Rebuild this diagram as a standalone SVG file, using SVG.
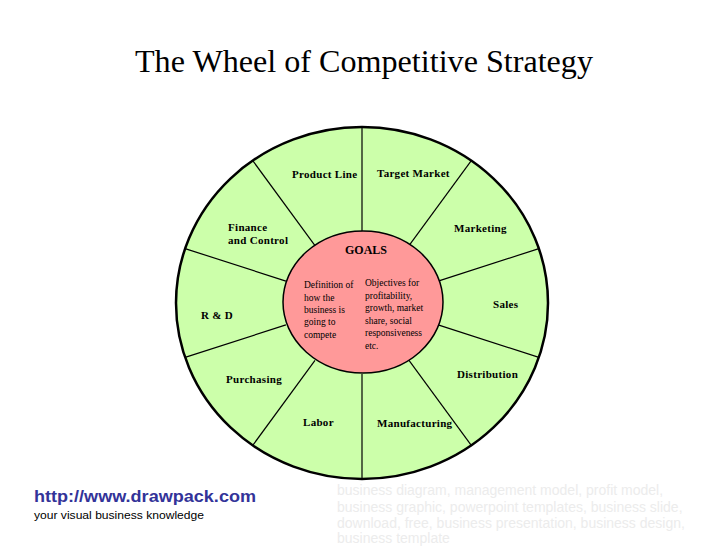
<svg xmlns="http://www.w3.org/2000/svg" width="728" height="546" viewBox="0 0 728 546">
<style>
.lbl{font-family:"Liberation Serif","Times New Roman",serif;font-weight:bold;font-size:11px;fill:#000;letter-spacing:0.3px}
.sm{font-family:"Liberation Serif","Times New Roman",serif;font-size:9.5px;fill:#000}
.spoke{stroke:#000;stroke-width:1.2;fill:none}
.gray{font-family:"Liberation Sans",Arial,sans-serif;font-size:14px;fill:#ececec}
</style>
<rect width="728" height="546" fill="#fff"/>
<text x="135" y="72" font-family="Liberation Serif, Times New Roman, serif" font-size="31" fill="#000" textLength="458" lengthAdjust="spacingAndGlyphs">The Wheel of Competitive Strategy</text>
<g id="wheel">
<ellipse cx="362" cy="303" rx="186" ry="176" fill="#ccffaa" stroke="#000" stroke-width="2.5"/>
</g>
<g id="spokes">
<line class="spoke" x1="362" y1="232" x2="362" y2="127"/>
<line class="spoke" x1="409" y1="245.6" x2="471.3" y2="160.6"/>
<line class="spoke" x1="438.1" y1="281.1" x2="538.9" y2="248.6"/>
<line class="spoke" x1="438.1" y1="324.9" x2="538.9" y2="357.4"/>
<line class="spoke" x1="409" y1="360.4" x2="471.3" y2="445.4"/>
<line class="spoke" x1="362" y1="374" x2="362" y2="479"/>
<line class="spoke" x1="315" y1="360.4" x2="252.7" y2="445.4"/>
<line class="spoke" x1="285.9" y1="324.9" x2="185.1" y2="357.4"/>
<line class="spoke" x1="285.9" y1="281.1" x2="185.1" y2="248.6"/>
<line class="spoke" x1="315" y1="245.6" x2="252.7" y2="160.6"/>
</g>
<g id="product-line"><text class="lbl" x="292" y="178">Product Line</text></g>
<g id="target-market"><text class="lbl" x="377" y="177">Target Market</text></g>
<g id="marketing"><text class="lbl" x="454" y="232">Marketing</text></g>
<g id="sales"><text class="lbl" x="493" y="308">Sales</text></g>
<g id="distribution"><text class="lbl" x="457" y="378">Distribution</text></g>
<g id="manufacturing"><text class="lbl" x="377" y="427">Manufacturing</text></g>
<g id="labor"><text class="lbl" x="303" y="426">Labor</text></g>
<g id="purchasing"><text class="lbl" x="226" y="383">Purchasing</text></g>
<g id="rd"><text class="lbl" x="201" y="319">R &amp; D</text></g>
<g id="finance"><text class="lbl" x="228" y="231">Finance</text><text class="lbl" x="228" y="244">and Control</text></g>
<g id="goals">
<ellipse cx="363" cy="302" rx="80" ry="71" fill="#ff9999" stroke="#000" stroke-width="1.5"/>
<text x="366" y="254" text-anchor="middle" font-family="Liberation Serif, Times New Roman, serif" font-weight="bold" font-size="12" fill="#000">GOALS</text>
<text class="sm" x="304" y="288">Definition of</text>
<text class="sm" x="304" y="301">how the</text>
<text class="sm" x="304" y="313">business is</text>
<text class="sm" x="304" y="325">going to</text>
<text class="sm" x="304" y="338">compete</text>
<text class="sm" x="365" y="286">Objectives for</text>
<text class="sm" x="365" y="299">profitability,</text>
<text class="sm" x="365" y="311">growth, market</text>
<text class="sm" x="365" y="324">share, social</text>
<text class="sm" x="365" y="336">responsiveness</text>
<text class="sm" x="365" y="349">etc.</text>
</g>
<g id="footer">
<text x="34" y="502" font-family="Liberation Sans, Arial, sans-serif" font-weight="bold" font-size="16" fill="#333399" textLength="222" lengthAdjust="spacingAndGlyphs">http://www.drawpack.com</text>
<text x="34" y="519" font-family="Liberation Sans, Arial, sans-serif" font-size="11" fill="#000" textLength="170" lengthAdjust="spacingAndGlyphs">your visual business knowledge</text>
<text class="gray" x="337" y="495">business diagram, management model, profit model,</text>
<text class="gray" x="337" y="512">business graphic, powerpoint templates, business slide,</text>
<text class="gray" x="337" y="528">download, free, business presentation, business design,</text>
<text class="gray" x="337" y="543">business template</text>
</g>
</svg>
